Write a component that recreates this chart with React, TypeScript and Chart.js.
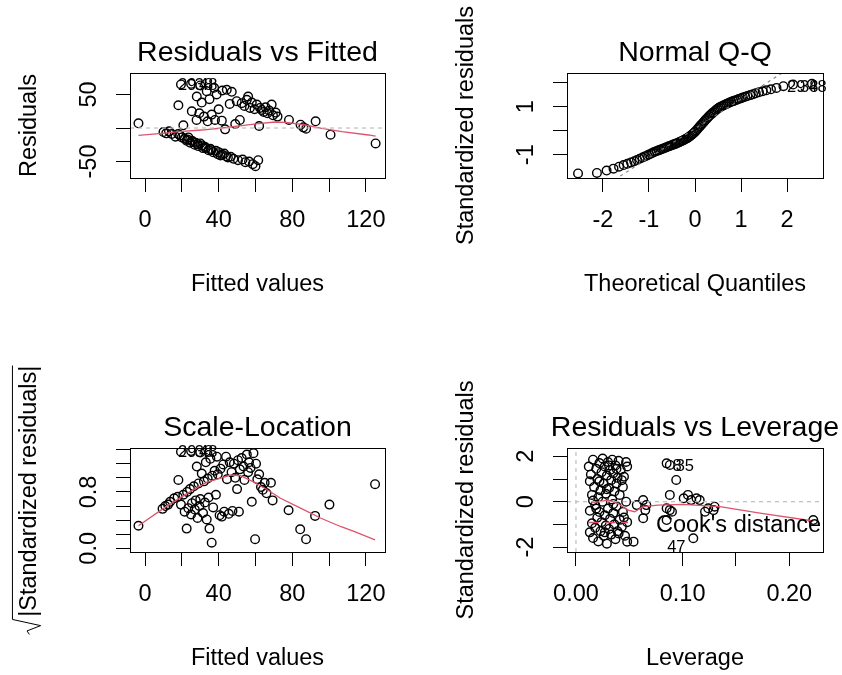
import React, { useEffect, useRef } from "react";
import { Chart, registerables } from "chart.js";

Chart.register(...registerables);

const FAMILY = '"Liberation Sans", Arial, Helvetica, sans-serif';
const RED = "#DF536B";
const GREY = "#BEBEBE";
const GREY50 = "#7F7F7F";

// ---------- Residuals vs Fitted ----------
const fitted = [
  -3.6, 10, 11.5, 13, 14.5, 16.5, 18.1, 19, 20.8, 21.5, 22.6, 23.5, 24.5, 25.4, 26, 27, 28, 28.1, 29, 29.5,
  30, 30.8, 31.5, 32, 32.5, 33.5, 34, 34.5, 35, 35.5, 36.2, 37, 37.5, 38, 38.5, 38.9, 39.5, 40, 41, 41.7,
  42, 43, 43.5, 44.4, 45, 46, 46.5, 47.1, 48, 49, 49.8, 50.5, 51.5, 52.5, 53, 54, 54.5, 55.3, 56, 56.5,
  57, 58, 58.5, 59.5, 60, 60.7, 61.5, 62, 62.5, 63.4, 64.5, 65.5, 66.5, 67.5, 68.8, 69.5, 71, 72, 78.2, 84.5,
  86, 87.5, 92.7, 100.8, 125.3, 19.5, 25, 30,
  18, 20, 23, 25.5, 27.5, 28.5, 31, 33, 36, 40, 42, 44,
];
const residuals = [
  7, -6, -8, -5, -9, -13, 34, -11, 4, -16, -19, -14, -22, 25, -21, -25, 12, 47, -27, 22,
  -23, 38, -30, 17, -28, 55, 10, -33, 43, -31, 20, -36, 60, 12, -34, 50, -39, 28, -41, 11,
  56, -38, -2, 57, -44, 36, -43, 54, -46, 6, 40, -48, 12, 37, -47, 33, -51, 42, 47, -50,
  30, 38, -54, 28, -57, 35, -48, 3, 30, 27, 24, 31, 22, 26, 35, 19, 23, 17, 12, 5,
  1, -1, 10, -10, -23, 65, 66, 63.5,
  -9, -14, -17, -19, -22, -24, -26, -30, -33, -36, -40, -42,
];
const residSmoothFitted = [-3.6, 9, 20, 30.8, 41.7, 52.5, 61.6, 70.7, 78, 87, 96, 107, 121.4, 125.3];
const residSmoothValue = [-11, -8, -5, -3, 0, 3.5, 6.5, 9, 8, 4.5, -0.5, -5.5, -10.4, -12];
const fittedTicks = [0, 20, 40, 60, 80, 100, 120];
const fittedTickLabels = ["0", "40", "80", "120"];
const residTicks = [-50, 0, 50];
const residTickLabels = ["-50", "50"];
const residIdText = ["29", "38", "48"];
const residIdFitted = [17.9, 27.0, 29.3];
const residIdValue = [65.5, 65.5, 65.5];

// ---------- Normal Q-Q ----------
const theoretical = [
  -2.54, -2.13, -1.92, -1.77, -1.65, -1.55, -1.47, -1.39, -1.32, -1.26, -1.2, -1.14, -1.09, -1.04, -1,
  -0.95, -0.91, -0.87, -0.83, -0.79, -0.755, -0.718, -0.683, -0.649, -0.615, -0.582, -0.55, -0.518,
  -0.487, -0.456, -0.426, -0.396, -0.366, -0.337, -0.308, -0.279, -0.25, -0.222, -0.194, -0.166,
  -0.138, -0.11, -0.083, -0.055, -0.028, 0, 0.028, 0.055, 0.083, 0.11, 0.138, 0.166, 0.194, 0.222,
  0.25, 0.279, 0.308, 0.337, 0.366, 0.396, 0.426, 0.456, 0.487, 0.518, 0.55, 0.582, 0.615, 0.649,
  0.683, 0.718, 0.755, 0.79, 0.83, 0.87, 0.91, 0.95, 1, 1.04, 1.09, 1.14, 1.2, 1.26, 1.32, 1.39,
  1.47, 1.55, 1.65, 1.77, 1.92, 2.13, 2.54,
];
const sortedStdResid = [
  -1.78, -1.76, -1.66, -1.58, -1.5, -1.43, -1.38, -1.32, -1.27, -1.22, -1.17, -1.12, -1.07, -1.03, -0.99,
  -0.95, -0.91, -0.88, -0.85, -0.82, -0.79, -0.76, -0.74, -0.71, -0.69, -0.66, -0.64, -0.62,
  -0.59, -0.57, -0.55, -0.52, -0.5, -0.47, -0.45, -0.42, -0.4, -0.37, -0.34, -0.31,
  -0.27, -0.23, -0.19, -0.15, -0.1, -0.05, 0.01, 0.07, 0.13, 0.19, 0.25, 0.31, 0.37, 0.43,
  0.49, 0.55, 0.61, 0.66, 0.71, 0.76, 0.81, 0.86, 0.91, 0.95, 0.99, 1.02, 1.05, 1.08,
  1.11, 1.14, 1.17, 1.2, 1.23, 1.26, 1.29, 1.32, 1.35, 1.38, 1.41, 1.44, 1.48, 1.52, 1.56, 1.6,
  1.64, 1.68, 1.72, 1.78, 1.85, 1.92, 1.95,
];
const qqLineX = [-2.78, 2.78];
const qqLineY = [-3.3, 3.48];
const quantileTicks = [-2, -1, 0, 1, 2];
const quantileTickLabels = ["-2", "-1", "0", "1", "2"];
const stdTicksQQ = [-1, 0, 1, 2];
const stdTickLabelsQQ = ["-1", "1"];
const qqIdText = ["29", "38", "48"];
const qqIdX = [2.0, 2.28, 2.46];
const qqIdY = [1.86, 1.86, 1.86];

// ---------- Scale-Location ----------
const slFitted = [
  -3.6, 9.5, 11, 12.5, 13.6, 15.8, 17.7, 18.1, 19.5, 20.8, 21.5, 22.6, 22.8, 23.5, 24.4, 25, 25.5, 26.5,
  27, 27.5, 28.1, 28.5, 29, 29.5, 30, 30.8, 31.5, 32, 32.5, 33, 33.5, 34, 34.5, 35, 35.5, 36.2, 36.5,
  37, 37.8, 38.5, 39, 39.5, 40.5, 41, 41.7, 42.5, 43, 44, 44.5, 45.5, 46, 47, 47.5, 48.3, 49, 50, 50.5,
  51, 51.5, 52.5, 53.5, 54, 55.3, 56, 56.5, 57.3, 58, 58.9, 59.8, 60.3, 61, 62, 63, 64, 65, 66, 68.4,
  69.3, 78, 84.3, 87.5, 92.4, 100.2, 125, 19.5, 25, 30,
];
const slSqrtStd = [
  0.32, 0.56, 0.6, 0.62, 0.66, 0.71, 0.73, 0.97, 0.62, 0.76, 0.52, 0.28, 0.8, 0.57, 0.84, 0.48, 0.64, 0.88,
  0.55, 0.68, 1.16, 0.43, 0.92, 0.6, 0.7, 1.06, 0.5, 0.95, 0.65, 1.22, 0.41, 0.99, 0.72, 0.28, 1.27, 0.08,
  1.03, 0.58, 1.1, 0.76, 1.3, 1.05, 0.47, 1.13, 0.45, 1.19, 0.52, 1.3, 0.98, 0.49, 1.22, 1.08, 0.53, 1.2,
  1.0, 0.84, 1.25, 0.52, 1.12, 1.28, 1.16, 0.97, 1.33, 1.08, 1.22, 1.14, 0.66, 1.35, 0.13, 1.2, 0.98, 1.05,
  0.87, 0.83, 0.93, 0.78, 0.93, 0.68, 0.54, 0.27, 0.13, 0.46, 0.62, 0.91, 1.37, 1.38, 1.36,
];
const slSmoothFitted = [-3.6, 10.2, 22.9, 33.8, 46.5, 51.9, 59.1, 66.4, 73.6, 84.5, 95.3, 106.2, 113.5, 125];
const slSmoothValue = [0.32, 0.57, 0.78, 0.94, 1.04, 1.03, 0.94, 0.83, 0.71, 0.57, 0.43, 0.31, 0.24, 0.12];
const sqrtTicks = [0, 0.2, 0.4, 0.6, 0.8, 1.0, 1.2, 1.4];
const sqrtTickLabels = ["0.0", "0.8"];
const slIdText = ["29", "38", "48"];
const slIdFitted = [17.9, 27.0, 29.3];
const slIdValue = [1.38, 1.38, 1.38];

// ---------- Residuals vs Leverage ----------
const leverage = [
  0.012, 0.013, 0.013, 0.013, 0.014, 0.015, 0.015, 0.016, 0.016, 0.017, 0.018, 0.018, 0.019, 0.02, 0.02,
  0.021, 0.021, 0.022, 0.022, 0.023, 0.023, 0.024, 0.024, 0.025, 0.025, 0.026, 0.026, 0.027, 0.027, 0.028,
  0.028, 0.029, 0.029, 0.03, 0.03, 0.031, 0.031, 0.032, 0.032, 0.033, 0.033, 0.034, 0.034, 0.035, 0.035,
  0.036, 0.036, 0.037, 0.037, 0.038, 0.038, 0.039, 0.039, 0.04, 0.041, 0.041, 0.042, 0.043, 0.044, 0.044,
  0.045, 0.046, 0.047, 0.048, 0.048, 0.048, 0.054,
  0.019, 0.022, 0.027, 0.031, 0.035, 0.038, 0.04, 0.043, 0.045, 0.047, 0.016, 0.029,
  0.057, 0.063, 0.066, 0.065, 0.063, 0.085, 0.088, 0.094, 0.088, 0.101, 0.105, 0.108, 0.116, 0.113,
  0.085, 0.088, 0.09, 0.085, 0.11, 0.121, 0.124, 0.129, 0.13, 0.2225,
];
const levStdResid = [
  1.55, 0.9, -0.4, -1.35, 1.2, 0.3, -0.95, 1.85, -1.6, 0.65, -0.15, -1.15, 1.45, 1.0, -0.7,
  0.2, -1.75, 1.7, -0.45, 0.5, -1.3, 1.3, -0.9, 1.9, 0.0, -1.5, 0.8, 1.55, -0.6, -1.05,
  0.35, 1.15, -1.85, 1.75, -0.3, 0.6, -1.2, 1.4, -0.75, 0.95, -1.45, 1.85, 0.1, -0.5, 1.25,
  -1.0, 0.45, 1.6, -1.65, -0.2, 0.8, 1.05, -1.3, 1.8, -0.8, 0.3, 1.4, -1.1, 0.65, -0.45,
  1.1, -1.5, 0.0, -0.9, 1.55, -1.76, -1.76,
  -0.3, 0.9, -1.35, 1.6, -0.1, 1.45, -1.4, 0.95, -0.7, 1.75, 0.05, 0.55,
  -0.15, 0.07, -0.15, -0.37, -0.73, 1.69, 1.62, 0.96, 0.3, 0.15, 0.3, 0.07, 0.07, 0.15,
  -0.29, -0.37, -0.44, -0.81, -1.61, -0.44, -0.29, -0.37, -0.22, -0.81,
];
const levSmoothX = [0.0147, 0.03, 0.04, 0.049, 0.055, 0.063, 0.077, 0.1, 0.135, 0.1725, 0.2225];
const levSmoothY = [-0.05, 0.07, -0.1, -0.37, -0.44, -0.22, -0.15, -0.12, -0.22, -0.5, -0.85];
const leverageTicks = [0, 0.05, 0.1, 0.15, 0.2];
const leverageTickLabels = ["0.00", "0.10", "0.20"];
const levStdTicks = [-2, -1, 0, 1, 2];
const levStdTickLabels = ["-2", "0", "2"];
const levIdText = ["8", "35", "47"];
const levIdX = [0.0905, 0.0935, 0.0855];
const levIdY = [1.62, 1.62, -1.95];

// ---------- chart helpers ----------
type Pt = { x: number; y: number };
const zip = (xs: number[], ys: number[]): Pt[] => xs.map((x, i) => ({ x, y: ys[i] }));

const pointSet = (xs: number[], ys: number[]) => ({
  data: zip(xs, ys),
  showLine: false,
  pointStyle: "circle",
  pointRadius: 4.3,
  pointBorderWidth: 1.4,
  pointBorderColor: "#000",
  pointBackgroundColor: "rgba(0,0,0,0)",
});

const lineSet = (xs: number[], ys: number[], color: string, width: number, dash: number[] = []) => ({
  data: zip(xs, ys),
  showLine: true,
  pointRadius: 0,
  borderColor: color,
  borderWidth: width,
  borderDash: dash,
  fill: false,
  tension: 0,
  clip: 0,
});

type Spec = {
  box: { left: number; top: number; width: number; height: number };
  frame: { l: number; t: number; r: number; b: number };
  xRange: [number, number];
  yRange: [number, number];
  xTicks: number[];
  xTickLabels: string[];
  yTicks: number[];
  yTickLabels: string[];
  title: string;
  xTitle: string;
  yTitle: string;
  sqrtY?: boolean;
  datasets: any[];
  ids: { text: string[]; x: number[]; y: number[] };
  legend?: string;
};

const FIT_RANGE: [number, number] = [-8.2, 130.4];

const specs: Spec[] = [
  {
    box: { left: 0, top: 0, width: 421, height: 337 },
    frame: { l: 130, t: 73, r: 385, b: 178 },
    xRange: FIT_RANGE,
    yRange: [-74.6, 82.1],
    xTicks: fittedTicks,
    xTickLabels: fittedTickLabels,
    yTicks: residTicks,
    yTickLabels: residTickLabels,
    title: "Residuals vs Fitted",
    xTitle: "Fitted values",
    yTitle: "Residuals",
    datasets: [
      lineSet(FIT_RANGE, [0, 0], GREY, 1.2, [4, 4]),
      lineSet(residSmoothFitted, residSmoothValue, RED, 1.3),
      pointSet(fitted, residuals),
    ],
    ids: { text: residIdText, x: residIdFitted, y: residIdValue },
  },
  {
    box: { left: 421, top: 0, width: 421, height: 337 },
    frame: { l: 146, t: 73, r: 402, b: 178 },
    xRange: [-2.78, 2.78],
    yRange: [-1.97, 2.4],
    xTicks: quantileTicks,
    xTickLabels: quantileTickLabels,
    yTicks: stdTicksQQ,
    yTickLabels: stdTickLabelsQQ,
    title: "Normal Q-Q",
    xTitle: "Theoretical Quantiles",
    yTitle: "Standardized residuals",
    datasets: [
      lineSet(qqLineX, qqLineY, GREY50, 1.1, [3, 4]),
      pointSet(theoretical, sortedStdResid),
    ],
    ids: { text: qqIdText, x: qqIdX, y: qqIdY },
  },
  {
    box: { left: 0, top: 337, width: 421, height: 338 },
    frame: { l: 130, t: 111, r: 385, b: 215 },
    xRange: FIT_RANGE,
    yRange: [-0.052, 1.423],
    xTicks: fittedTicks,
    xTickLabels: fittedTickLabels,
    yTicks: sqrtTicks,
    yTickLabels: sqrtTickLabels,
    title: "Scale-Location",
    xTitle: "Fitted values",
    yTitle: "|Standardized residuals|",
    sqrtY: true,
    datasets: [
      lineSet(slSmoothFitted, slSmoothValue, RED, 1.3),
      pointSet(slFitted, slSqrtStd),
    ],
    ids: { text: slIdText, x: slIdFitted, y: slIdValue },
  },
  {
    box: { left: 421, top: 337, width: 421, height: 338 },
    frame: { l: 146, t: 111, r: 402, b: 215 },
    xRange: [-0.0084, 0.2316],
    yRange: [-2.216, 2.366],
    xTicks: leverageTicks,
    xTickLabels: leverageTickLabels,
    yTicks: levStdTicks,
    yTickLabels: levStdTickLabels,
    title: "Residuals vs Leverage",
    xTitle: "Leverage",
    yTitle: "Standardized residuals",
    datasets: [
      lineSet([-0.0084, 0.2316], [0, 0], GREY, 1.2, [4, 4]),
      lineSet([0, 0], [-2.216, 2.366], GREY, 1.2, [4, 4]),
      lineSet(levSmoothX, levSmoothY, RED, 1.3),
      pointSet(leverage, levStdResid),
    ],
    ids: { text: levIdText, x: levIdX, y: levIdY },
    legend: "Cook's distance",
  },
];

const AXIS_BAND = 40;
const TICK_LEN = 14;
const BASE_FONT = 23.5;
const TITLE_FONT = 28.5;
const ID_FONT = 16.5;

// Frame, tick labels, titles, point ids and legend in the base-graphics style.
function decorations(spec: Spec) {
  return {
    id: "baseDecor",
    afterDraw(chart: any) {
      const { ctx, chartArea: a, scales } = chart;
      const xs = scales.x;
      const ys = scales.y;
      const cx = (a.left + a.right) / 2;
      const cy = (a.top + a.bottom) / 2;
      const capHalf = (BASE_FONT * 0.716) / 2;
      ctx.save();

      ctx.strokeStyle = "#000";
      ctx.lineWidth = 1;
      ctx.strokeRect(
        Math.round(a.left) + 0.5,
        Math.round(a.top) + 0.5,
        Math.round(a.right - a.left),
        Math.round(a.bottom - a.top)
      );

      ctx.fillStyle = "#000";
      ctx.textBaseline = "alphabetic";

      // tick labels
      ctx.font = `${BASE_FONT}px ${FAMILY}`;
      ctx.textAlign = "center";
      for (const t of spec.xTickLabels) {
        ctx.fillText(t, xs.getPixelForValue(parseFloat(t)), a.bottom + 41 + capHalf);
      }
      for (const t of spec.yTickLabels) {
        ctx.save();
        ctx.translate(a.left - 42 + capHalf, ys.getPixelForValue(parseFloat(t)));
        ctx.rotate(-Math.PI / 2);
        ctx.fillText(t, 0, 0);
        ctx.restore();
      }

      // axis titles
      ctx.fillText(spec.xTitle, cx, a.bottom + 113);
      ctx.save();
      ctx.translate(a.left - 102 + capHalf, cy);
      ctx.rotate(-Math.PI / 2);
      if (spec.sqrtY) {
        const w = ctx.measureText(spec.yTitle).width;
        const rw = BASE_FONT * 0.75;
        const x0 = -(w + rw) / 2;
        ctx.textAlign = "left";
        ctx.fillText(spec.yTitle, x0 + rw, 0);
        const top = -BASE_FONT * 1.02;
        ctx.beginPath();
        ctx.moveTo(x0, -BASE_FONT * 0.3);
        ctx.lineTo(x0 + rw * 0.2, -BASE_FONT * 0.4);
        ctx.lineTo(x0 + rw * 0.5, BASE_FONT * 0.18);
        ctx.lineTo(x0 + rw * 0.85, top);
        ctx.lineTo(x0 + rw + w, top);
        ctx.stroke();
      } else {
        ctx.fillText(spec.yTitle, 0, 0);
      }
      ctx.restore();

      // main title
      ctx.font = `${TITLE_FONT}px ${FAMILY}`;
      ctx.textAlign = "center";
      ctx.fillText(spec.title, cx, a.top - 12);

      // identified observations
      ctx.font = `${ID_FONT}px ${FAMILY}`;
      ctx.textAlign = "left";
      spec.ids.text.forEach((t, i) => {
        ctx.fillText(
          t,
          xs.getPixelForValue(spec.ids.x[i]),
          ys.getPixelForValue(spec.ids.y[i]) + (ID_FONT * 0.716) / 2
        );
      });

      // legend
      if (spec.legend) {
        const ly = a.bottom - 29.5;
        ctx.strokeStyle = RED;
        ctx.lineWidth = 1.3;
        ctx.setLineDash([10, 6]);
        ctx.beginPath();
        ctx.moveTo(a.left + 22, ly);
        ctx.lineTo(a.left + 61, ly);
        ctx.stroke();
        ctx.setLineDash([]);
        ctx.font = `${BASE_FONT}px ${FAMILY}`;
        ctx.fillStyle = "#000";
        ctx.fillText(spec.legend, a.left + 89, ly + capHalf + 1);
      }
      ctx.restore();
    },
  };
}

function Panel({ spec }: { spec: Spec }) {
  const ref = useRef<HTMLCanvasElement | null>(null);

  useEffect(() => {
    const canvas = ref.current;
    if (!canvas) return;
    const { frame, box } = spec;
    const axisCommon = {
      type: "linear" as const,
      bounds: "data" as const,
      ticks: { display: false },
      grid: {
        display: true,
        drawOnChartArea: false,
        drawTicks: true,
        tickLength: TICK_LEN,
        color: "#000",
        tickColor: "#000",
        lineWidth: 1,
      },
      border: { display: false },
    };
    const chart = new Chart(canvas, {
      type: "scatter",
      data: { datasets: spec.datasets },
      options: {
        animation: false,
        responsive: false,
        maintainAspectRatio: false,
        events: [],
        layout: {
          autoPadding: false,
          padding: {
            left: frame.l - AXIS_BAND,
            top: frame.t,
            right: box.width - frame.r,
            bottom: box.height - frame.b - AXIS_BAND,
          },
        },
        plugins: {
          legend: { display: false },
          tooltip: { enabled: false },
          title: { display: false },
        },
        scales: {
          x: {
            ...axisCommon,
            position: "bottom",
            min: spec.xRange[0],
            max: spec.xRange[1],
            afterBuildTicks: (s: any) => {
              s.ticks = spec.xTicks.map((v) => ({ value: v }));
            },
            afterFit: (s: any) => {
              s.height = AXIS_BAND;
            },
          },
          y: {
            ...axisCommon,
            position: "left",
            min: spec.yRange[0],
            max: spec.yRange[1],
            afterBuildTicks: (s: any) => {
              s.ticks = spec.yTicks.map((v) => ({ value: v }));
            },
            afterFit: (s: any) => {
              s.width = AXIS_BAND;
            },
          },
        },
      } as any,
      plugins: [decorations(spec)],
    });
    return () => chart.destroy();
  }, [spec]);

  return (
    <canvas
      ref={ref}
      width={spec.box.width}
      height={spec.box.height}
      style={{
        position: "absolute",
        left: spec.box.left,
        top: spec.box.top,
        width: spec.box.width,
        height: spec.box.height,
      }}
    />
  );
}

export default function App() {
  return (
    <div
      style={{
        position: "fixed",
        left: 0,
        top: 0,
        width: 842,
        height: 675,
        background: "#fff",
        overflow: "hidden",
      }}
    >
      {specs.map((s, i) => (
        <Panel key={i} spec={s} />
      ))}
    </div>
  );
}
